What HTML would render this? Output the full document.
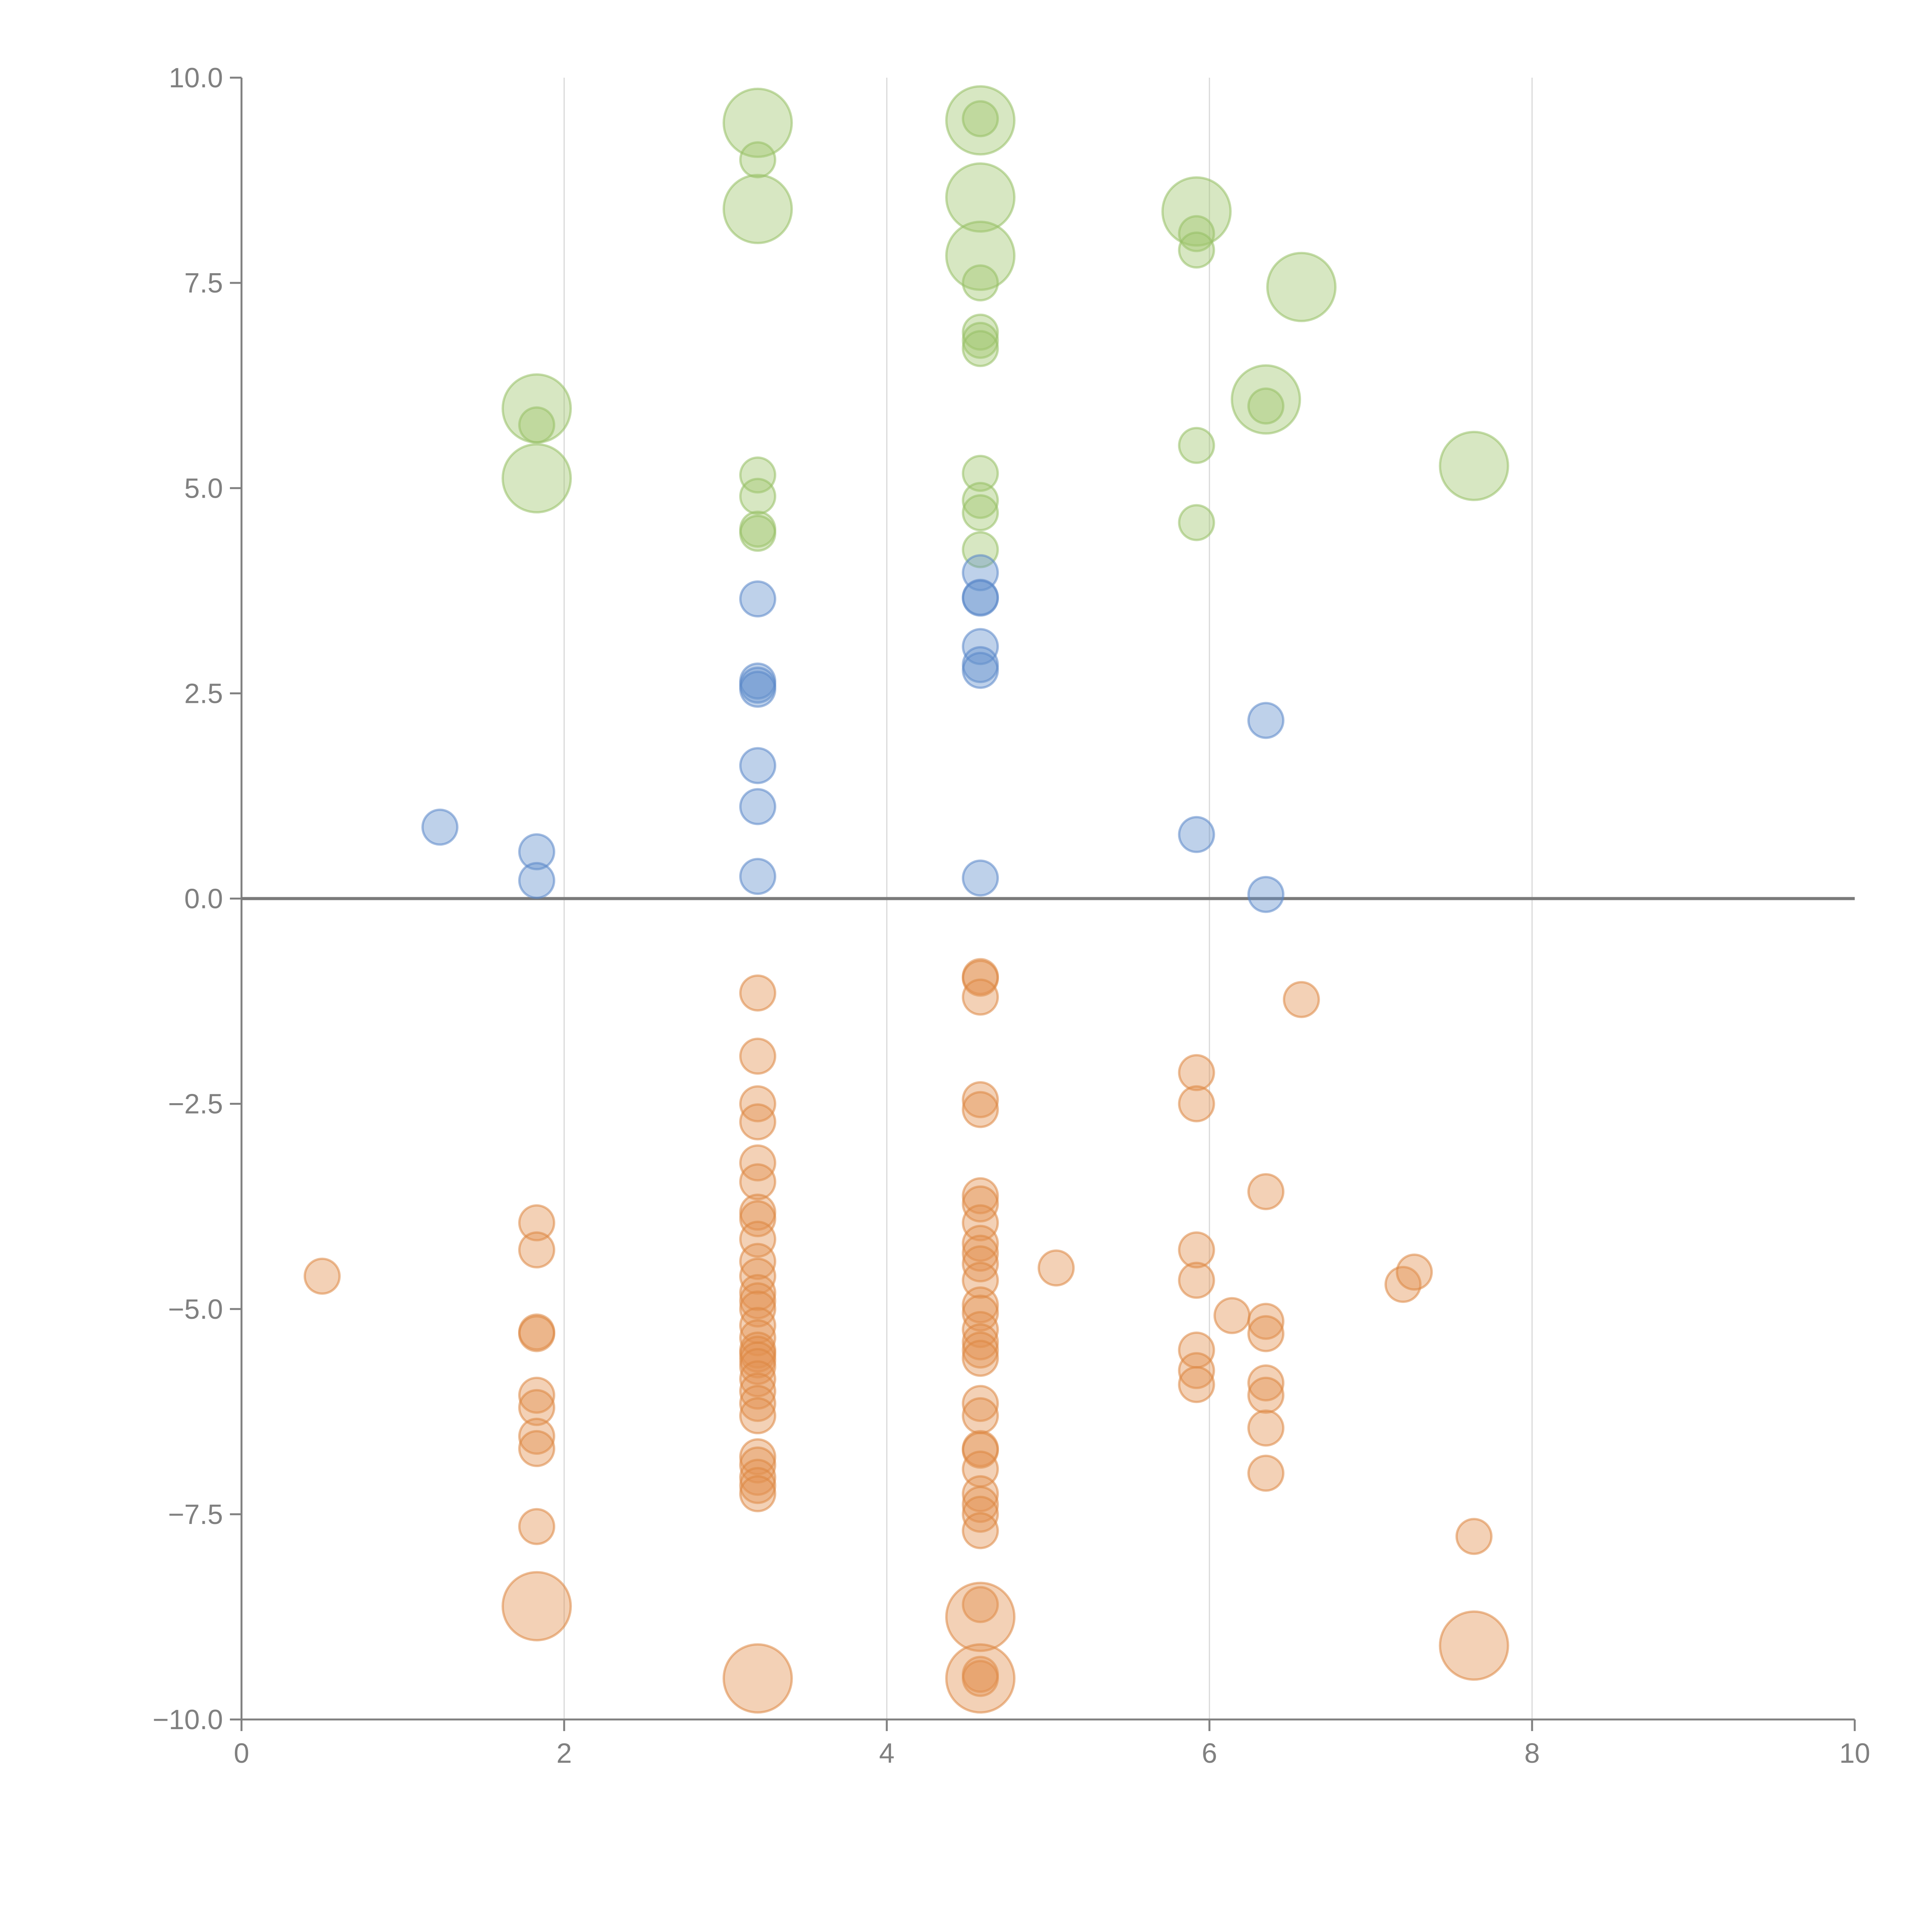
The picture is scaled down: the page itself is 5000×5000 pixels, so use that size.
<!DOCTYPE html>
<html><head><meta charset="utf-8"><style>
html,body{margin:0;padding:0;background:#fff;}
svg{display:block;font-family:"Liberation Sans",sans-serif;}
</style></head><body>
<svg id="chart" width="5000" height="5000" viewBox="0 0 5000 5000">
<g id="grid"></g>
<g id="axes"></g>
<g id="marks"></g>
</svg>
<script>
const greenX=[1.83,1.83,3.2,3.2,4.58,4.58,4.58,5.92,6.57,6.35,7.64,1.83,3.2,3.2,3.2,3.2,3.2,4.58,4.58,4.58,4.58,4.58,4.58,4.58,4.58,4.58,5.92,5.92,5.92,5.92,6.35];
const greenY=[5.97,5.12,9.45,8.4,9.48,8.54,7.83,8.37,7.45,6.08,5.27,5.77,9.0,5.16,4.9,4.5,4.45,9.5,7.5,6.9,6.8,6.7,5.18,4.85,4.7,4.25,8.1,7.9,5.52,4.58,6.0];
const greenBig=[1,1,1,1,1,1,1,1,1,1,1,0,0,0,0,0,0,0,0,0,0,0,0,0,0,0,0,0,0,0,0];
const blueX=[1.23,1.83,1.83,3.2,3.2,3.2,3.2,3.2,3.2,3.2,4.58,4.58,4.58,4.58,4.58,4.58,4.58,5.92,6.35,6.35];
const blueY=[0.87,0.57,0.22,3.65,2.65,2.6,2.55,1.62,1.12,0.27,3.97,3.67,3.66,3.07,2.85,2.78,0.25,0.78,2.17,0.05];
const orangeX=[0.5,1.83,1.83,1.83,1.83,1.83,1.83,1.83,1.83,1.83,
3.2,3.2,3.2,3.2,3.2,3.2,3.2,3.2,3.2,3.2,3.2,3.2,3.2,3.2,3.2,3.2,3.2,3.2,3.2,3.2,3.2,3.2,3.2,3.2,3.2,3.2,3.2,3.2,3.2,
4.58,4.58,4.58,4.58,4.58,4.58,4.58,4.58,4.58,4.58,4.58,4.58,4.58,4.58,4.58,4.58,4.58,4.58,4.58,4.58,4.58,4.58,4.58,4.58,4.58,4.58,4.58,4.58,4.58,4.58,
5.05,5.92,5.92,5.92,5.92,5.92,5.92,5.92,6.14,6.35,6.35,6.35,6.35,6.35,6.35,6.35,6.57,7.2,7.27,7.64,
1.83,3.2,4.58,4.58,7.64];
const orangeY=[-4.6,-3.95,-4.28,-5.28,-5.3,-6.05,-6.2,-6.55,-6.7,-7.65,
-1.15,-1.92,-2.5,-2.72,-3.22,-3.45,-3.82,-3.9,-4.15,-4.42,-4.6,-4.8,-4.9,-5.0,-5.2,-5.35,-5.5,-5.55,-5.62,-5.7,-5.85,-6.0,-6.15,-6.3,-6.8,-6.9,-7.05,-7.15,-7.25,
-0.95,-0.97,-1.2,-2.45,-2.57,-3.62,-3.72,-3.95,-4.2,-4.32,-4.45,-4.65,-4.95,-5.05,-5.25,-5.4,-5.5,-5.6,-6.15,-6.3,-6.7,-6.72,-6.95,-7.25,-7.38,-7.5,-7.7,-8.6,-9.45,-9.5,
-4.5,-2.12,-2.5,-4.28,-4.65,-5.5,-5.75,-5.92,-5.08,-3.57,-5.15,-5.3,-5.9,-6.05,-6.45,-7.0,-1.23,-4.7,-4.55,-7.77,
-8.62,-9.5,-8.75,-9.5,-9.1];
const orangeBig=orangeY.map((v,i)=>i>=orangeY.length-5?1:0);
const xTicks=[0,2,4,6,8,10];
const yTicks=[10,7.5,5,2.5,0,-2.5,-5,-7.5,-10];

const X0=625,X1=4800,Y0=4450,Y1=201;
const sx=v=>X0+(v-0)/10*(X1-X0);
const sy=v=>Y0-(v+10)/20*(Y0-Y1);
const NS="http://www.w3.org/2000/svg";
function mk(tag,parent){const e=document.createElementNS(NS,tag);parent.appendChild(e);return e;}
const grid=document.getElementById('grid'),axes=document.getElementById('axes'),marks=document.getElementById('marks');

xTicks.forEach(t=>{
  if(t>0&&t<10){const l=mk('line',grid);
  
  
  l.setAttribute('x1',sx(t));l.setAttribute('x2',sx(t));l.setAttribute('y1',Y1);l.setAttribute('y2',Y0);
  l.setAttribute('stroke','#d8d8d8');l.setAttribute('stroke-width','3');}
  const tk=mk('line',axes);
  
  
  tk.setAttribute('x1',sx(t));tk.setAttribute('x2',sx(t));tk.setAttribute('y1',Y0);tk.setAttribute('y2',Y0+30);
  tk.setAttribute('stroke','#808080');tk.setAttribute('stroke-width','5');
  const tx=mk('text',axes);
  
  
  tx.setAttribute('x',sx(t));tx.setAttribute('y',Y0+112);tx.setAttribute('text-anchor','middle');
  tx.setAttribute('font-size','72');tx.setAttribute('fill','#808080');tx.textContent=String(t);
});
yTicks.forEach(t=>{
  const tk=mk('line',axes);
  
  
  tk.setAttribute('x1',X0-30);tk.setAttribute('x2',X0);tk.setAttribute('y1',sy(t));tk.setAttribute('y2',sy(t));
  tk.setAttribute('stroke','#808080');tk.setAttribute('stroke-width','5');
  const tx=mk('text',axes);
  
  
  tx.setAttribute('x',X0-48);tx.setAttribute('y',sy(t)+25);tx.setAttribute('text-anchor','end');
  tx.setAttribute('font-size','72');tx.setAttribute('fill','#808080');
  tx.textContent=(t<0?'\u2212':'')+Math.abs(t).toFixed(1);
});
const ya=mk('line',axes);


ya.setAttribute('x1',X0);ya.setAttribute('x2',X0);ya.setAttribute('y1',Y1);ya.setAttribute('y2',Y0);
ya.setAttribute('stroke','#808080');ya.setAttribute('stroke-width','5');
const xa=mk('line',axes);


xa.setAttribute('x1',X0);xa.setAttribute('x2',X1);xa.setAttribute('y1',Y0);xa.setAttribute('y2',Y0);
xa.setAttribute('stroke','#808080');xa.setAttribute('stroke-width','5');
const zl=mk('line',axes);


zl.setAttribute('x1',X0);zl.setAttribute('x2',X1);zl.setAttribute('y1',sy(0));zl.setAttribute('y2',sy(0));
zl.setAttribute('stroke','#7a7a7a');zl.setAttribute('stroke-width','8');

function series(xs,ys,big,fill,stroke,name){
  xs.forEach((x,i)=>{
    const c=mk('circle',marks);
    
    
    c.setAttribute('cx',sx(x));c.setAttribute('cy',sy(ys[i]));
    c.setAttribute('r',big&&big[i]?88:45);
    c.setAttribute('fill',fill);c.setAttribute('stroke',stroke);c.setAttribute('stroke-width','6');
  });
}
series(greenX,greenY,greenBig,'rgba(160,198,110,0.42)','rgba(150,192,100,0.55)','green-bubble');
series(blueX,blueY,null,'rgba(100,145,205,0.42)','rgba(90,135,200,0.55)','blue-bubble');
series(orangeX,orangeY,orangeBig,'rgba(226,145,80,0.42)','rgba(220,135,65,0.55)','orange-bubble');
</script>
</body></html>
